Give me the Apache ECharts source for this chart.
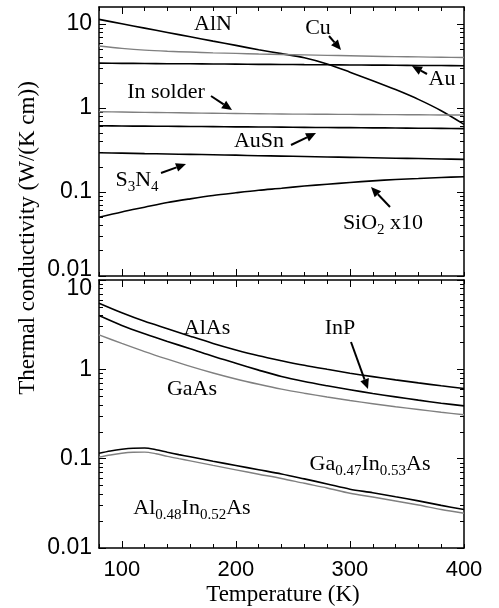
<!DOCTYPE html>
<html>
<head>
<meta charset="utf-8">
<script src="https://cdn.jsdelivr.net/npm/echarts@6/dist/echarts.min.js"></script>
<style>
  html, body { margin: 0; padding: 0; background: #fff; }
  #chart { width: 499px; height: 608px; }
</style>
</head>
<body>
<div id="chart"></div>
<script>
// temperatures (K)
var temps = [80, 100, 120, 140, 160, 180, 200, 220, 240, 260, 280, 300, 320, 340, 360, 380, 400];
// finer grid for the humped alloy curves
var tempsAlloy = [80, 90, 100, 110, 120, 130, 140, 150, 160, 180, 200, 220, 240, 260, 280, 300, 320, 340, 360, 380, 400];

// top panel: metals, solders, dielectrics (W/(K cm))
var alN    = [11.4, 10.1, 8.97, 7.96, 7.07, 6.28, 5.58, 4.95, 4.45, 3.97, 3.35, 2.68, 2.12, 1.66, 1.27, 0.93, 0.64];
var cu     = [5.5, 5.15, 4.9, 4.75, 4.65, 4.55, 4.48, 4.4, 4.35, 4.3, 4.25, 4.2, 4.15, 4.1, 4.07, 4.03, 4.0];
var au     = [3.43, 3.41, 3.40, 3.38, 3.37, 3.35, 3.34, 3.32, 3.31, 3.29, 3.28, 3.26, 3.25, 3.24, 3.22, 3.21, 3.20];
var inSolder = [0.905, 0.897, 0.89, 0.882, 0.875, 0.868, 0.862, 0.856, 0.85, 0.847, 0.844, 0.841, 0.838, 0.835, 0.832, 0.829, 0.826];
var auSn   = [0.615, 0.612, 0.609, 0.607, 0.604, 0.601, 0.598, 0.596, 0.593, 0.590, 0.587, 0.585, 0.582, 0.579, 0.576, 0.573, 0.570];
var si3n4  = [0.294, 0.291, 0.287, 0.284, 0.281, 0.278, 0.275, 0.271, 0.268, 0.265, 0.262, 0.259, 0.256, 0.253, 0.251, 0.248, 0.245];
var sio2x10 = [0.050, 0.058, 0.066, 0.075, 0.083, 0.091, 0.098, 0.105, 0.111, 0.118, 0.124, 0.130, 0.136, 0.141, 0.145, 0.149, 0.152];

// bottom panel: III-V semiconductors
var alAs   = [5.5, 4.3, 3.45, 2.85, 2.35, 1.95, 1.65, 1.42, 1.25, 1.11, 1.0, 0.905, 0.828, 0.762, 0.705, 0.655, 0.61];
var inP    = [4.0, 3.1, 2.5, 2.05, 1.7, 1.4, 1.17, 0.98, 0.83, 0.73, 0.655, 0.592, 0.537, 0.492, 0.452, 0.418, 0.39];
var gaAs   = [2.43, 1.95, 1.58, 1.3, 1.08, 0.91, 0.78, 0.68, 0.60, 0.54, 0.49, 0.448, 0.412, 0.381, 0.355, 0.331, 0.31];
var gaInAs = [0.115, 0.122, 0.1275, 0.131, 0.1315, 0.126, 0.118, 0.111, 0.105, 0.0937, 0.0839, 0.0752, 0.0675, 0.0594, 0.0521, 0.0455, 0.0415, 0.0374, 0.0337, 0.030, 0.027];
var alInAs = [0.104, 0.110, 0.115, 0.118, 0.1185, 0.1135, 0.106, 0.100, 0.0945, 0.084, 0.075, 0.067, 0.060, 0.053, 0.047, 0.041, 0.0372, 0.0336, 0.0303, 0.027, 0.0245];

// axis ticks
var xLabelTicks = [100, 200, 300, 400];
var xMajorTicks = [100, 200, 300];
var yMajorTicks = [0.01, 0.1, 1, 10];
var yTickLabels = ['0.01', '0.1', '1', '10'];
var yMinorTicks = [];
[0.01, 0.1, 1, 10].forEach(function (d) {
  for (var k = 2; k <= 9; k++) yMinorTicks.push(+(d * k).toPrecision(3));
});

var BLACK = '#000';
var GREY = '#808080';
var SERIF = '"Liberation Serif", "Times New Roman", serif';
var SANS = '"Liberation Sans", Arial, sans-serif';

var myChart = echarts.init(document.getElementById('chart'));

function pairs(xs, arr) {
  return xs.map(function (t, i) { return [t, arr[i]]; });
}

function xAxes(g, showLabels) {
  var base = {
    type: 'value', gridIndex: g, min: 80, max: 400, interval: 20,
    splitLine: { show: false }
  };
  var line = { show: true, onZero: false, lineStyle: { color: BLACK, width: 1.5 } };
  var minor = { inside: true, length: 4, lineStyle: { color: BLACK, width: 1 } };
  var major = { inside: true, length: 7, customValues: xMajorTicks, lineStyle: { color: BLACK, width: 1 } };
  return [
    Object.assign({}, base, {
      position: 'bottom', axisLine: line, axisTick: minor,
      axisLabel: {
        show: showLabels, customValues: xLabelTicks, margin: 11,
        color: BLACK, fontFamily: SANS, fontSize: 22
      }
    }),
    Object.assign({}, base, { position: 'top', axisLine: line, axisTick: minor, axisLabel: { show: false } }),
    Object.assign({}, base, { position: 'bottom', axisLine: { show: false }, axisTick: major, axisLabel: { show: false } }),
    Object.assign({}, base, { position: 'top', axisLine: { show: false }, axisTick: major, axisLabel: { show: false } })
  ];
}

// shifted: tick value whose label is nudged away from the neighbouring panel
function yAxes(g, max, shifted, pad) {
  var base = {
    type: 'log', logBase: 10, gridIndex: g, min: 0.01, max: max,
    splitLine: { show: false }, minorTick: { show: false }
  };
  var line = { show: true, lineStyle: { color: BLACK, width: 1.5 } };
  var major = { inside: true, length: 7, customValues: yMajorTicks, lineStyle: { color: BLACK, width: 1 } };
  var minor = { inside: true, length: 4, customValues: yMinorTicks, lineStyle: { color: BLACK, width: 1 } };
  return [
    Object.assign({}, base, {
      position: 'left', axisLine: line, axisTick: major,
      axisLabel: {
        customValues: yMajorTicks, margin: 7, color: BLACK, fontFamily: SANS, fontSize: 23,
        rich: { u: { padding: pad, color: BLACK, fontFamily: SANS, fontSize: 23 } },
        formatter: function (v) {
          for (var i = 0; i < yMajorTicks.length; i++) {
            if (Math.abs(Math.log10(v) - Math.log10(yMajorTicks[i])) < 1e-6) {
              return yMajorTicks[i] === shifted ? '{u|' + yTickLabels[i] + '}' : yTickLabels[i];
            }
          }
          return '';
        }
      }
    }),
    Object.assign({}, base, { position: 'left', axisLine: { show: false }, axisTick: minor, axisLabel: { show: false } }),
    Object.assign({}, base, { position: 'right', axisLine: line, axisTick: major, axisLabel: { show: false } }),
    Object.assign({}, base, { position: 'right', axisLine: { show: false }, axisTick: minor, axisLabel: { show: false } })
  ];
}

function curve(name, xs, arr, color, g) {
  return {
    name: name, type: 'line', xAxisIndex: g * 4, yAxisIndex: g * 4,
    data: pairs(xs, arr), smooth: 0.3, symbol: 'none', silent: true,
    lineStyle: { color: color, width: color === GREY ? 1.4 : 1.6 }
  };
}

// annotation helpers (pixel layout)
function label(x, y, text, rich) {
  return {
    type: 'text', x: x, y: y, silent: true,
    style: {
      text: text, fill: BLACK, font: '22px ' + SERIF,
      align: 'center', verticalAlign: 'middle', rich: rich || {}
    }
  };
}
var subRich = {
  s: { fontSize: 15, fontFamily: SERIF, padding: [14, 0, 0, 0], fill: BLACK }
};
function arrow(x1, y1, x2, y2) {
  var a = Math.atan2(y2 - y1, x2 - x1);
  var L = 10, W = 4.5;
  var bx = x2 - L * Math.cos(a), by = y2 - L * Math.sin(a);
  return [
    { type: 'line', silent: true, shape: { x1: x1, y1: y1, x2: bx, y2: by }, style: { stroke: BLACK, lineWidth: 2 } },
    {
      type: 'polygon', silent: true,
      shape: { points: [[x2, y2], [bx - W * Math.sin(a), by + W * Math.cos(a)], [bx + W * Math.sin(a), by - W * Math.cos(a)]] },
      style: { fill: BLACK }
    }
  ];
}

var graphics = [
  label(213, 24, 'AlN'),
  label(318, 28, 'Cu'),
  label(442, 79, 'Au'),
  label(166, 92, 'In solder'),
  label(259, 141, 'AuSn'),
  label(137, 180, 'S{s|3}N{s|4}', subRich),
  label(383, 223, 'SiO{s|2} x10', subRich),
  label(207, 328, 'AlAs'),
  label(192, 389, 'GaAs'),
  label(340, 328, 'InP'),
  label(370, 464, 'Ga{s|0.47}In{s|0.53}As', subRich),
  label(192, 508, 'Al{s|0.48}In{s|0.52}As', subRich),
  {
    type: 'text', x: 28, y: 238, rotation: Math.PI / 2, silent: true,
    style: { text: 'Thermal conductivity (W/(K cm))', fill: BLACK, font: '23px ' + SERIF, align: 'center', verticalAlign: 'middle' }
  },
  {
    type: 'text', x: 283, y: 595, silent: true,
    style: { text: 'Temperature (K)', fill: BLACK, font: '23px ' + SERIF, align: 'center', verticalAlign: 'middle' }
  }
].concat(
  arrow(329, 36, 341, 50),
  arrow(427, 74, 412, 66),
  arrow(211, 96, 232, 110),
  arrow(291, 145, 316, 133),
  arrow(161, 173, 186, 164),
  arrow(390, 207, 371, 187),
  arrow(351, 342, 368, 389)
);

var option = {
  animation: false,
  backgroundColor: '#fff',
  grid: [
    { left: 99, top: 7, width: 365, height: 269 },
    { left: 99, top: 280, width: 365, height: 268 }
  ],
  xAxis: xAxes(0, false).concat(xAxes(1, true)),
  yAxis: yAxes(0, 16, 0.01, [0, 0, 12, 0]).concat(yAxes(1, 10, 10, [18, 0, 0, 0])),
  series: [
    curve('AlN', temps, alN, BLACK, 0),
    curve('Cu', temps, cu, GREY, 0),
    curve('Au', temps, au, BLACK, 0),
    curve('In solder', temps, inSolder, GREY, 0),
    curve('AuSn', temps, auSn, BLACK, 0),
    curve('Si3N4', temps, si3n4, BLACK, 0),
    curve('SiO2 x10', temps, sio2x10, BLACK, 0),
    curve('AlAs', temps, alAs, BLACK, 1),
    curve('InP', temps, inP, BLACK, 1),
    curve('GaAs', temps, gaAs, GREY, 1),
    curve('Ga0.47In0.53As', tempsAlloy, gaInAs, BLACK, 1),
    curve('Al0.48In0.52As', tempsAlloy, alInAs, GREY, 1)
  ],
  graphic: graphics
};

myChart.setOption(option);
</script>
</body>
</html>
